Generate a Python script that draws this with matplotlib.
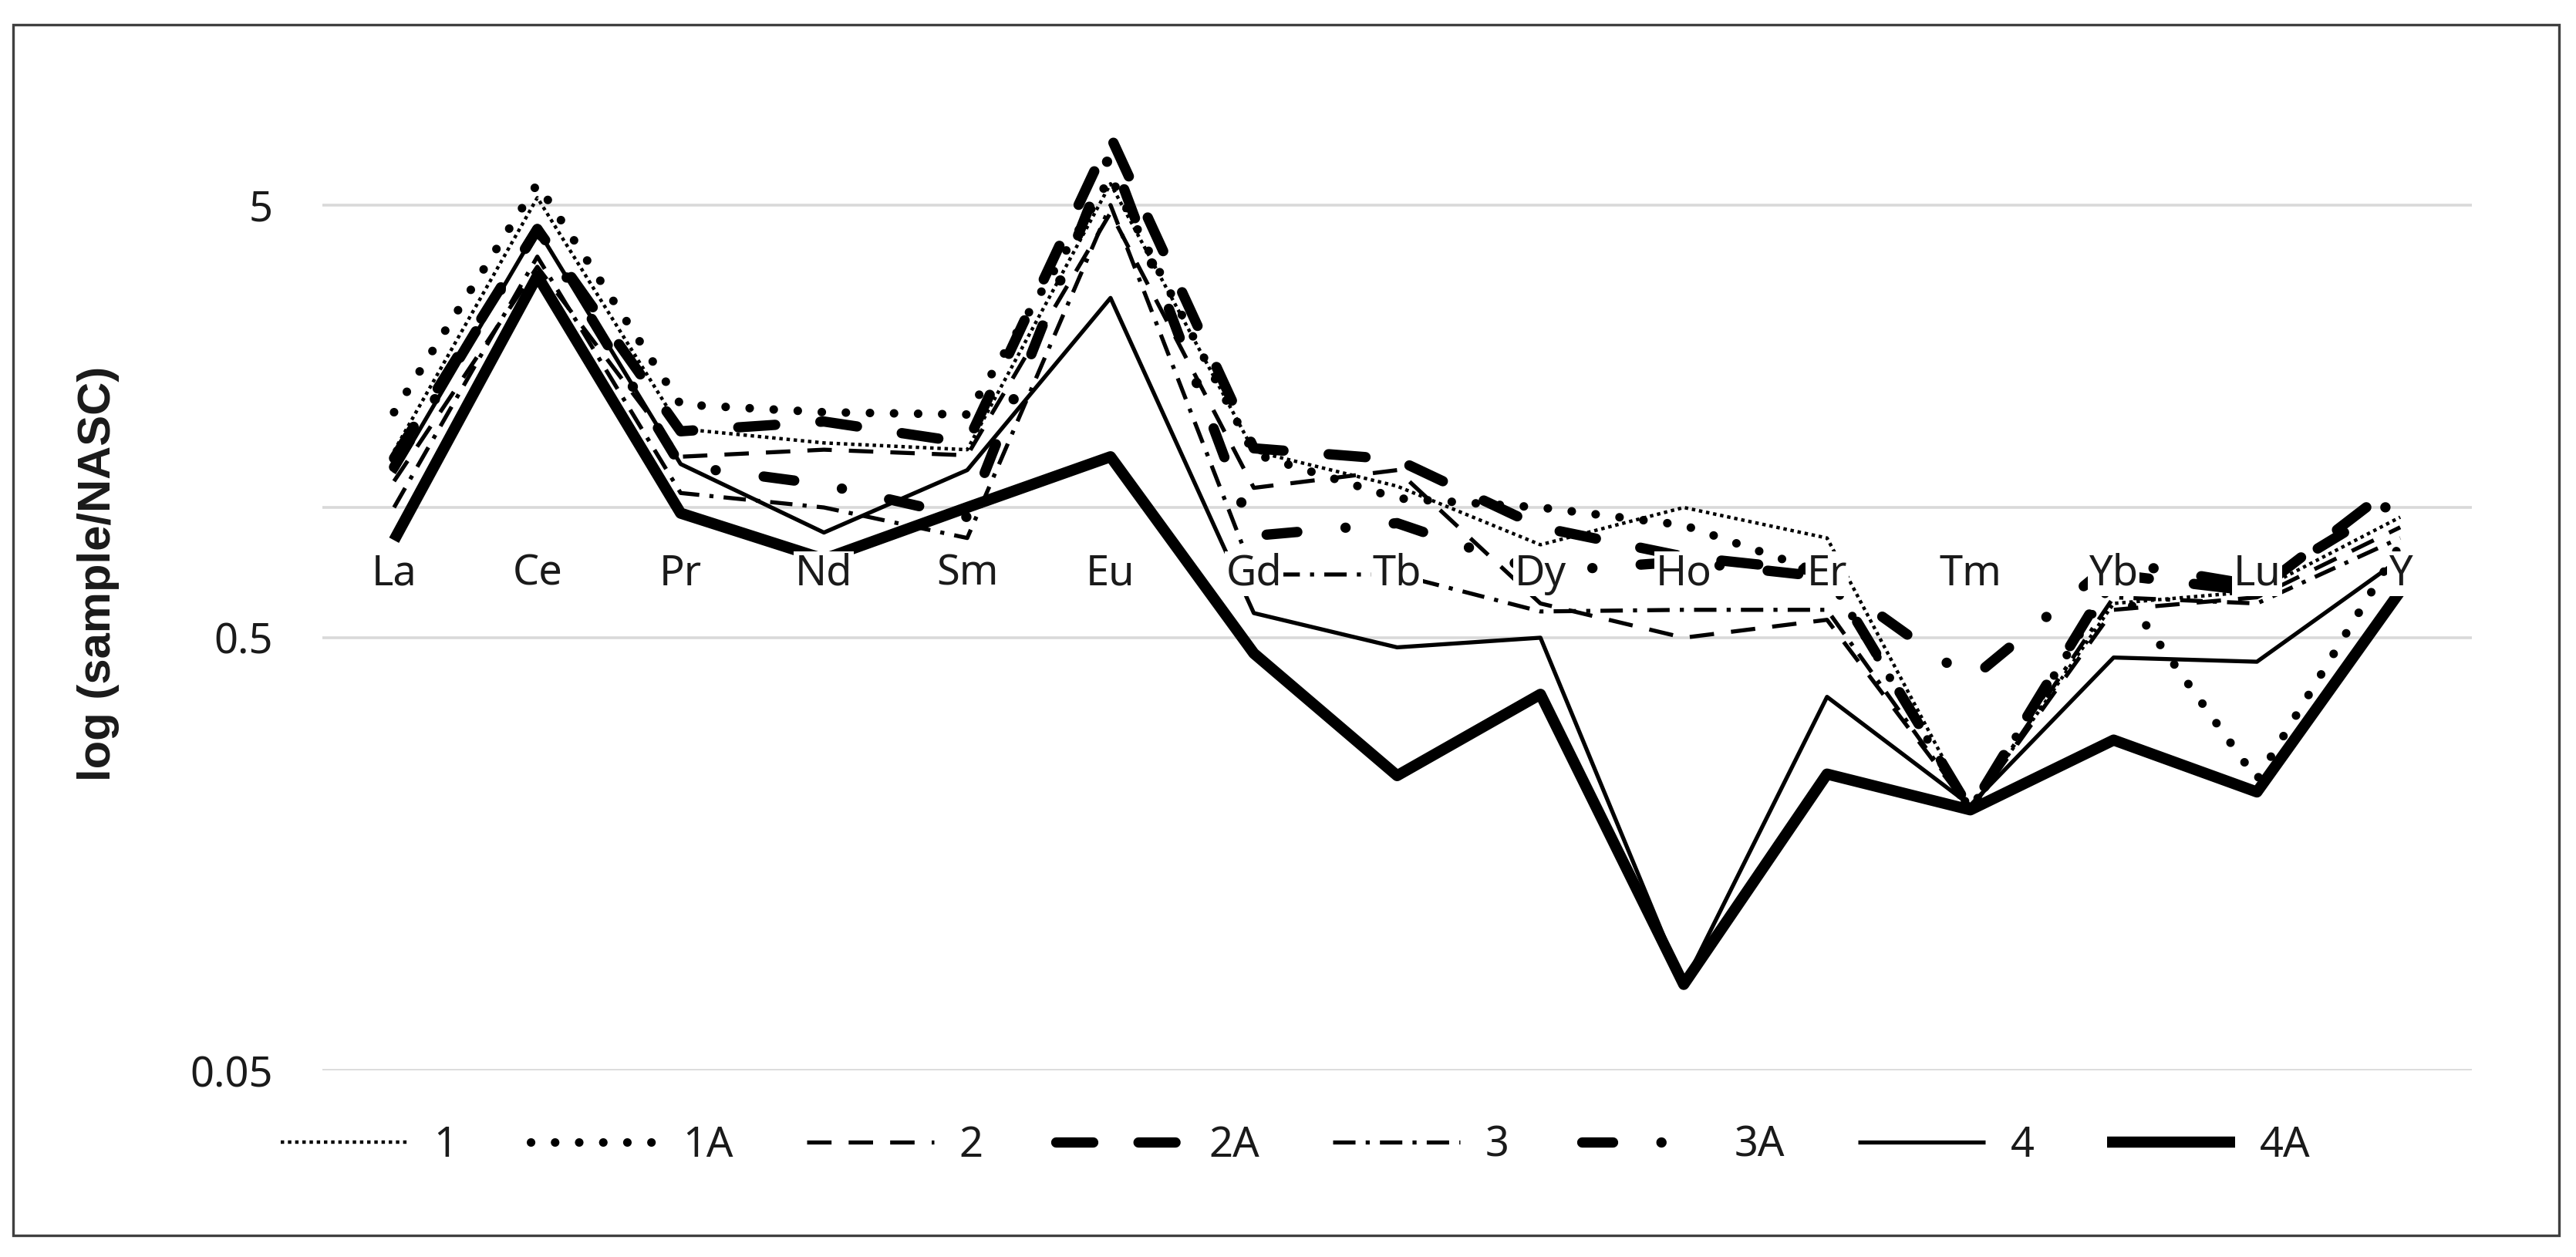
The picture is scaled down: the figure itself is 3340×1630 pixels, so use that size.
import matplotlib
import matplotlib.pyplot as plt
from matplotlib.patches import Rectangle

matplotlib.use('Agg')

# 稀土元素（横轴类别）
elements = ['La', 'Ce', 'Pr', 'Nd', 'Sm', 'Eu', 'Gd', 'Tb', 'Dy', 'Ho', 'Er', 'Tm', 'Yb', 'Lu', 'Y']

# 各样品 sample/NASC 值
s1 = [1.35, 5.2, 1.52, 1.41, 1.36, 5.6, 1.35, 1.12, 0.82, 1.0, 0.85, 0.20, 0.60, 0.64, 0.95]
s1a = [1.66, 5.6, 1.73, 1.66, 1.64, 5.8, 1.33, 1.05, 1.0, 0.91, 0.70, 0.20, 0.68, 0.235, 0.82]
s2 = [1.15, 3.6, 1.31, 1.36, 1.32, 4.8, 1.11, 1.22, 0.60, 0.50, 0.55, 0.20, 0.58, 0.62, 0.90]
s2a = [1.30, 4.4, 1.50, 1.58, 1.41, 7.2, 1.37, 1.29, 0.90, 0.77, 0.71, 0.20, 0.70, 0.64, 1.15]
s3 = [1.0, 3.8, 1.08, 1.0, 0.85, 5.0, 0.70, 0.70, 0.575, 0.58, 0.58, 0.20, 0.62, 0.60, 0.85]
s3a = [1.24, 4.4, 1.25, 1.13, 0.95, 6.6, 0.86, 0.92, 0.71, 0.75, 0.69, 0.40, 0.75, 0.66, 1.05]
s4 = [1.2, 4.4, 1.26, 0.875, 1.22, 3.05, 0.57, 0.475, 0.50, 0.079, 0.365, 0.205, 0.45, 0.44, 0.76]
s4a = [0.84, 3.43, 0.97, 0.76, 1.0, 1.31, 0.46, 0.24, 0.37, 0.079, 0.242, 0.20, 0.29, 0.22, 0.64]

series_names = ['1', '1A', '2', '2A', '3', '3A', '4', '4A']
series_values = [s1, s1a, s2, s2a, s3, s3a, s4, s4a]

# 线型：(线宽, 虚线样式, 端点样式)
styles = [
    (1.6, (0, (1, 1.1)), 'butt'),
    (4.0, (0, (0.01, 2.8)), 'round'),
    (1.9, (0, (6, 4.2)), 'butt'),
    (4.8, (0, (3.6, 4.4)), 'round'),
    (1.9, (0, (5.5, 2.5, 1, 2.5)), 'butt'),
    (4.8, (0, (3, 4.7, 0.01, 4.7)), 'round'),
    (1.9, '-', 'butt'),
    (5.2, '-', 'butt'),
]

font = 'Noto Sans'
txt_color = '#1a1a1a'
plt.rcParams['font.family'] = [font, 'DejaVu Sans']

W, H = 3341, 1630
fig = plt.figure(figsize=(W / 200, H / 200), dpi=200)
ax = fig.add_axes([418 / W, 1 - 1388 / H, (3205 - 418) / W, (1388 - 97) / H])

x = list(range(len(elements)))
for name, vals, (lw, ls, cap) in zip(series_names, series_values, styles):
    ax.plot(x, vals, color='black', lw=lw, linestyle=ls,
            dash_capstyle=cap, solid_capstyle='butt', label=name, zorder=3)

ax.set_yscale('log')
ax.set_ylim(0.05, 10)
ax.set_xlim(-0.5, len(elements) - 0.5)
ax.set_yticks([0.05, 0.5, 5])
ax.set_yticklabels(['0.05', '0.5', '5'])
ax.yaxis.set_minor_locator(matplotlib.ticker.NullLocator())
ax.tick_params(axis='y', length=0, pad=23, labelsize=19.5, labelcolor=txt_color)
ax.set_xticks([])
for sp in ax.spines.values():
    sp.set_visible(False)
ax.yaxis.grid(True, color='#d9d9d9', lw=1.3, zorder=0)
ax.set_axisbelow(True)
# 横轴在 1 处相交
ax.axhline(1, color='#d9d9d9', lw=1.3, zorder=1)

# 类别标签（白底，盖住线条）
for i, el in enumerate(elements):
    ax.annotate(el, xy=(i, 1), xytext=(0, -31), textcoords='offset points',
                ha='center', va='center', fontsize=19.5, color=txt_color, zorder=5,
                bbox=dict(facecolor='white', edgecolor='none', pad=0.5))

fig.text(128 / W, 1 - 744 / H, 'log (sample/NASC)', rotation=90, ha='center', va='center',
         fontsize=21.5, fontweight='bold', color=txt_color,
         family=['Liberation Sans', 'DejaVu Sans'])

fig.legend(loc='center', bbox_to_anchor=(1680 / W, 1 - 1485 / H), ncol=8, frameon=False,
           fontsize=19.5, handlelength=3.05, handletextpad=0.6, columnspacing=1.75,
           labelcolor=txt_color)

# 外框
fig.patches.append(Rectangle((17 / W, 1 - 1602 / H), (3318 - 17) / W, (1602 - 32) / H,
                             transform=fig.transFigure, fill=False, edgecolor='#404040', lw=1.2))

fig.savefig('out.png', dpi=200, facecolor='white')
plt.close(fig)
